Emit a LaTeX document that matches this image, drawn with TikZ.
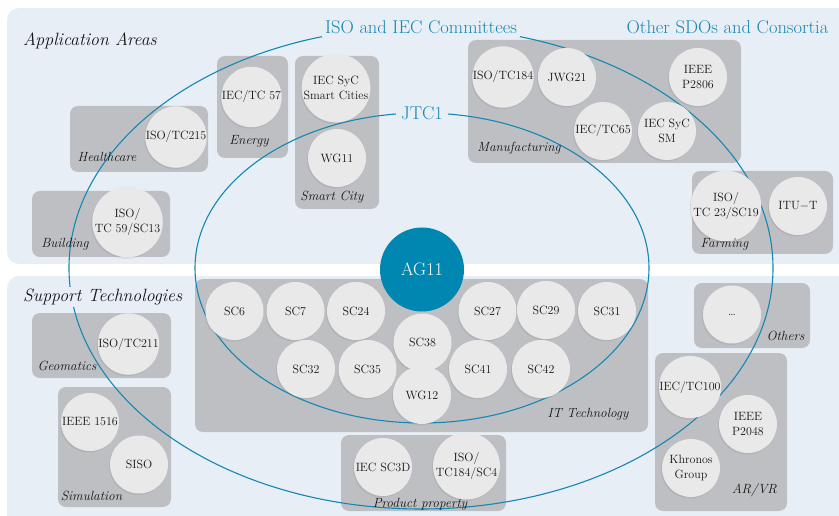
\documentclass[tikz,border=0pt]{standalone}
\usetikzlibrary{shadows,positioning}
\definecolor{panelblue}{HTML}{E7EEF6}
\definecolor{groupgray}{HTML}{BEBFC3}
\definecolor{orgfill}{HTML}{E9E9EA}
\definecolor{jtcblue}{HTML}{1487B2}
\definecolor{agblue}{HTML}{0087B1}
\definecolor{ink}{HTML}{161616}

\begin{document}
\begin{tikzpicture}[x=1pt,y=-1pt,
  panel/.style={fill=panelblue,rounded corners=12pt},
  group/.style={fill=groupgray,rounded corners=8pt},
  org/.style={circle,fill=orgfill,minimum size=58pt,inner sep=0pt,align=center,font=\fontsize{12}{15}\selectfont,text=ink,drop shadow={opacity=0.18,shadow xshift=-1pt,shadow yshift=-1.5pt}},
  area/.style={font=\fontsize{13.3}{15}\selectfont\itshape,text=ink,inner sep=1pt},
  title/.style={font=\fontsize{17.8}{20}\selectfont\itshape,text=ink,anchor=west,fill=panelblue,inner sep=2pt},
  sdo/.style={font=\fontsize{18.5}{21}\selectfont,text=jtcblue,fill=panelblue,inner sep=3pt},
  ring/.style={draw=jtcblue,line width=1.1pt},
]
\useasboundingbox (0,0) rectangle (839,516);
\clip (0,0) rectangle (839,516);

% PANELS
\fill[panel] (7,8) rectangle (860,264);
\fill[panel] (7,276) rectangle (860,530);

% GROUP BOXES (application areas)
\fill[group] (70,106) rectangle (208,172);
\fill[group] (217,56) rectangle (288,158);
\fill[group] (295,56) rectangle (379,209);
\fill[group] (32,191) rectangle (170,257);
\fill[group] (468,40) rectangle (741,163);
\fill[group] (692,171) rectangle (833,254);

% GROUP BOXES (support technologies)
\fill[group] (32,313) rectangle (171,378);
\fill[group] (58,387) rectangle (171,507);
\fill[group] (195,279) rectangle (648,432);
\fill[group] (341,435) rectangle (506,511);
\fill[group] (694,283) rectangle (810,348);
\fill[group] (655,353) rectangle (787,511);

% COMMITTEE RINGS
\draw[ring] (421,268) ellipse [x radius=352,y radius=241];
\draw[ring] (422,268) ellipse [x radius=227,y radius=155];

% APPLICATION AREA COMMITTEES
\node[org] (tc215) at (176,137) {ISO/TC215};
\node[org] (tc57) at (251.5,97) {IEC/TC 57};
\node[org] (sycsc) at (336,88) {IEC SyC\\Smart Cities};
\node[org] (wg11) at (337,158) {WG11};
\node[org] (tc59) at (127.5,222) {ISO/\\TC 59/SC13};
\node[org] (tc184) at (503,77) {ISO/TC184};
\node[org] (jwg21) at (567,77) {JWG21};
\node[org] (p2806) at (698,77) {IEEE\\P2806};
\node[org] (tc65) at (603,131) {IEC/TC65};
\node[org] (sycsm) at (667,131) {IEC SyC\\SM};
\node[org] (tc23) at (726,206) {ISO/\\TC 23/SC19};
\node[org] (itut) at (798,206) {ITU$-$T};

% SUPPORT TECHNOLOGY COMMITTEES
\node[org] (tc211) at (128.5,344) {ISO/TC211};
\node[org] (ieee1516) at (90,422) {IEEE 1516};
\node[org] (siso) at (139,464.5) {SISO};
\node[org] (sc6) at (234.5,311) {SC6};
\node[org] (sc7) at (295.5,311) {SC7};
\node[org] (sc24) at (356,311) {SC24};
\node[org] (sc32) at (306,369) {SC32};
\node[org] (sc35) at (367.5,369) {SC35};
\node[org] (sc38) at (422.5,342.5) {SC38};
\node[org] (wg12) at (422,395) {WG12};
\node[org] (sc27) at (487.5,311) {SC27};
\node[org] (sc29) at (546,310) {SC29};
\node[org] (sc31) at (607,311) {SC31};
\node[org] (sc41) at (478,369) {SC41};
\node[org] (sc42) at (541,369) {SC42};
\node[org] (more) at (732,314.5) {\dots};
\node[org] (tc100) at (690,387) {IEC/TC100};
\node[org] (p2048) at (748,424) {IEEE\\P2048};
\node[org] (khronos) at (691,468) {Khronos\\Group};
\node[org] (sc3d) at (383,467) {IEC SC3D};
\node[org] (tc184sc4) at (466.5,466) {ISO/\\TC184/SC4};

% AREA LABELS
\node[area] (healthcare) at (107,157) {Healthcare};
\node[area] (energy) at (249,141) {Energy};
\node[area] (smartcity) at (332,197) {Smart City};
\node[area] (building) at (65,244) {Building};
\node[area] (manufacturing) at (519,148) {Manufacturing};
\node[area] (farming) at (724.5,244) {Farming};
\node[area] (geomatics) at (67,366) {Geomatics};
\node[area] (simulation) at (91.5,496) {Simulation};
\node[area] (ittech) at (588,414) {IT Technology};
\node[area] (product) at (420,504) {Product property};
\node[area] (others) at (785.5,336) {Others};
\node[area] (arvr) at (754.5,490) {AR/VR};

% TITLES
\node[title] (appareas) at (21,41) {Application Areas};
\node[title] (supptech) at (21,297) {Support Technologies};
\node[sdo] (isoiec) at (421,27) {ISO and IEC Committees};
\node[sdo] (othersdo) at (727.5,27) {Other SDOs and Consortia};
\node[sdo,inner sep=5pt] (jtc1) at (422,113) {JTC1};
\node[circle,fill=agblue,minimum size=84pt,inner sep=0pt,text=white,font=\fontsize{18}{21}\selectfont] (ag11) at (422,269.5) {AG11};
\end{tikzpicture}
\end{document}
